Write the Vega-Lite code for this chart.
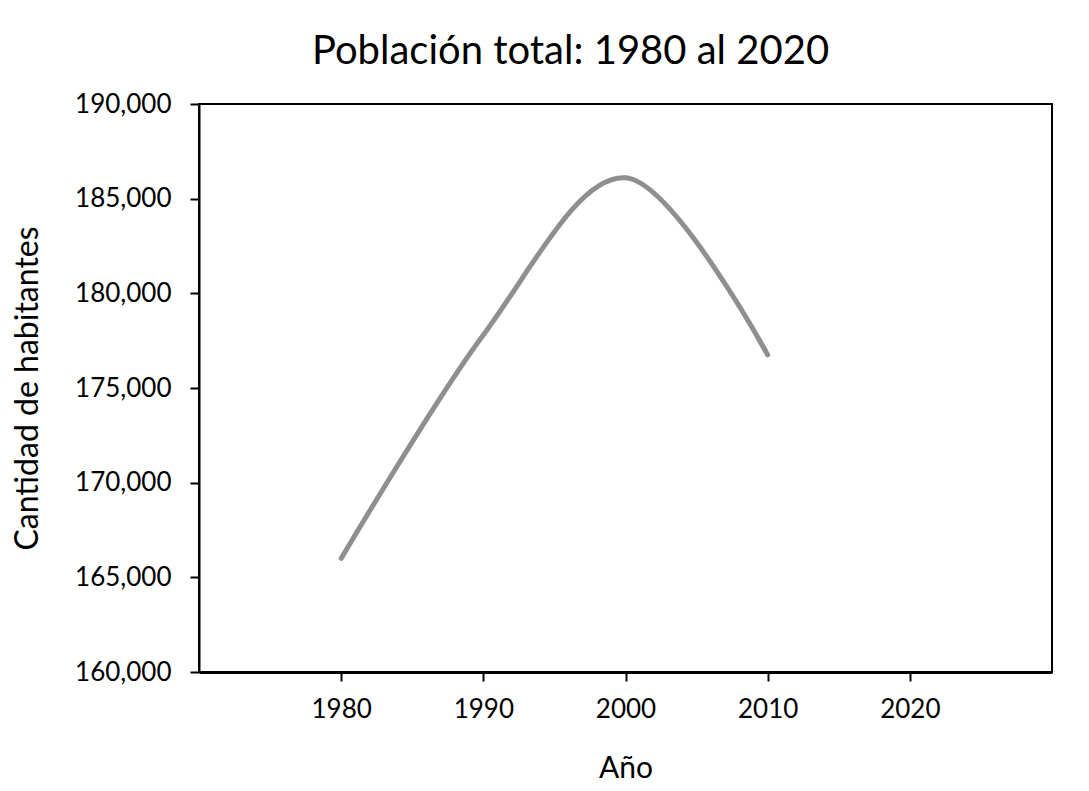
{
  "$schema": "https://vega.github.io/schema/vega-lite/v6.json",
  "width": 853,
  "height": 568,
  "autosize": "none",
  "padding": {"left": 199, "top": 104, "right": 37, "bottom": 119},
  "background": "white",
  "config": {
    "font": "Lato",
    "view": {"stroke": "black", "strokeWidth": 2}
  },
  "title": {
    "text": "Población total: 1980 al 2020",
    "fontSize": 40,
    "fontWeight": "normal",
    "font": "Lato",
    "color": "black",
    "anchor": "middle",
    "dx": -55,
    "offset": 19
  },
  "data": {
    "values": [
      {"anio": 1980, "poblacion": 166000},
      {"anio": 1990, "poblacion": 177800},
      {"anio": 2000, "poblacion": 186100},
      {"anio": 2010, "poblacion": 176750}
    ]
  },
  "mark": {"type": "line", "interpolate": "cardinal", "color": "#8f8f8f", "strokeWidth": 5, "strokeCap": "round"},
  "encoding": {
    "x": {
      "field": "anio",
      "type": "quantitative",
      "scale": {"domain": [1970, 2030], "nice": false, "zero": false},
      "axis": {
        "title": "Año",
        "values": [1980, 1990, 2000, 2010, 2020],
        "format": "d",
        "grid": false,
        "domainColor": "black",
        "domainWidth": 3,
        "tickColor": "black",
        "tickWidth": 2,
        "tickSize": 9,
        "labelPadding": 15,
        "labelFontSize": 26,
        "labelColor": "black",
        "labelFont": "Lato",
        "titleFontSize": 30,
        "titleFontWeight": "normal",
        "titleColor": "black",
        "titleFont": "Lato",
        "titlePadding": 31
      }
    },
    "y": {
      "field": "poblacion",
      "type": "quantitative",
      "scale": {"domain": [160000, 190000], "nice": false, "zero": false},
      "axis": {
        "title": "Cantidad de habitantes",
        "values": [160000, 165000, 170000, 175000, 180000, 185000, 190000],
        "format": ",d",
        "grid": false,
        "domainColor": "black",
        "domainWidth": 2,
        "tickColor": "black",
        "tickWidth": 2,
        "tickSize": 9,
        "labelPadding": 19,
        "labelFontSize": 26,
        "labelColor": "black",
        "labelFont": "Lato",
        "titleFontSize": 32,
        "titleFontWeight": "normal",
        "titleColor": "black",
        "titleFont": "Lato",
        "titlePadding": 30
      }
    }
  }
}
